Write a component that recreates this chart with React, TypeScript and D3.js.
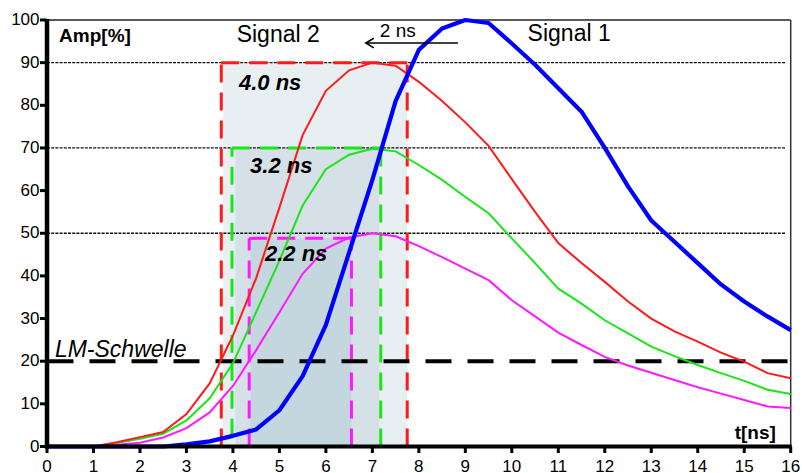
import React from "react";
import * as d3 from "d3";

// ---- data ----
const tValues = [0, 0.5, 1, 1.5, 2, 2.5, 3, 3.5, 4, 4.5, 5, 5.5, 6, 6.5, 7, 7.5, 8, 8.5, 9, 9.5, 10, 10.5, 11, 11.5, 12, 12.5, 13, 13.5, 14, 14.5, 15, 15.5, 16];
const signal1 = [0, 0, 0, 0, 0, 0, 0.5, 1.2, 2.5, 4, 8.5, 16.5, 28.5, 45.5, 62.5, 81, 93, 98, 100, 99.3, 94.5, 89.5, 84, 78.5, 70, 61, 53, 48, 43, 38, 34, 30.5, 27.3];
const signal2at90 = [0, 0, 0, 1, 2.2, 3.4, 7.6, 14.8, 26, 39.5, 56, 73, 83.4, 88.2, 90, 89.3, 85.5, 81, 76, 70.5, 62.7, 55, 47.7, 43, 38.6, 34, 30, 27, 24.6, 22, 19.9, 17.2, 16];
const signal2at70 = [0, 0, 0, 0.8, 1.8, 3, 6.1, 11.3, 19.5, 31.5, 43.6, 56.5, 65, 68.4, 69.8, 69.2, 66, 62.5, 58.5, 54.7, 48.8, 43, 37, 33.5, 29.6, 26.5, 23.4, 21.2, 19.1, 17.2, 15.4, 13.3, 12.3];
const signal2at50 = [0, 0, 0, 0.4, 0.9, 2.1, 4.3, 8, 14.2, 22.6, 31.5, 40.5, 46.4, 49, 50, 49.3, 47, 44.4, 41.7, 39, 34.3, 30.5, 26.7, 23.8, 21, 19, 17.3, 15.6, 13.9, 12.4, 10.9, 9.4, 9];

const xTicks = [0, 1, 2, 3, 4, 5, 6, 7, 8, 9, 10, 11, 12, 13, 14, 15, 16];
const yTicks = [0, 10, 20, 30, 40, 50, 60, 70, 80, 90, 100];
const gridLevels = [90, 70, 50];
const threshold = 20;

// rise-time windows: [start, end, level, bottom of left marker, label]
const windowStarts = [3.75, 3.98, 4.35];
const windowEnds = [7.75, 7.18, 6.55];
const windowLevels = [90, 70, 48.8];
const windowLeftBottoms = [0, 2.3, 0];
const windowLabels = ["4.0 ns", "3.2 ns", "2.2 ns"];
const windowLabelPos = [[4.13, 83.5], [4.37, 64.2], [4.69, 43.4]];

const FONT = "'Liberation Sans', Arial, Helvetica, sans-serif";

export default function App() {
  const W = 802, H = 473;
  const x = d3.scaleLinear().domain([0, 16]).range([47, 790.7]);
  const y = d3.scaleLinear().domain([0, 100]).range([446.5, 20]);

  const line = d3
    .line<number>()
    .x((_, i) => x(tValues[i]))
    .y((d) => y(d));

  const colors = ["#ff1a1a", "#19e619", "#ff19ff"];
  const fills = ["#e8eff2", "#d6e1e7", "#c4d6de"];
  const fillInset = [0.04, 0.07, 0.03];

  return (
    <svg
      width={W}
      height={H}
      style={{ position: "absolute", left: 0, top: 0, background: "#fff" }}
      fontFamily={FONT}
    >
      <rect x={0} y={0} width={W} height={H} fill="#fff" />
      {/* shaded rise-time windows */}
      {windowStarts.map((s, i) => (
        <rect
          key={"f" + i}
          x={x(s + fillInset[i])}
          y={y(windowLevels[i])}
          width={x(windowEnds[i] - (i === 1 ? 0.03 : 0)) - x(s + fillInset[i])}
          height={y(0) - y(windowLevels[i])}
          fill={fills[i]}
        />
      ))}

      {/* frame top and right */}
      <line x1={x(0)} x2={x(16)} y1={y(100)} y2={y(100)} stroke="#222" strokeWidth={1.5} />
      <line x1={x(16)} x2={x(16)} y1={y(100)} y2={y(0)} stroke="#333" strokeWidth={1.5} />

      {/* grid dashed lines */}
      {gridLevels.map((g) => (
        <line
          key={"g" + g}
          x1={x(0)}
          x2={x(15.88)}
          y1={y(g)}
          y2={y(g)}
          stroke="#111"
          strokeWidth={1.3}
          strokeDasharray="3 1.2"
        />
      ))}

      {/* window dashed outlines */}
      {windowStarts.map((s, i) => (
        <g key={"w" + i} stroke={colors[i]} strokeWidth={3} strokeDasharray="18 10" fill="none">
          <line x1={x(s)} x2={x(s)} y1={y(windowLeftBottoms[i])} y2={y(windowLevels[i])} />
          <line x1={x(windowEnds[i])} x2={x(windowEnds[i])} y1={y(0)} y2={y(windowLevels[i])} />
          <line x1={x(s)} x2={x(windowEnds[i])} y1={y(windowLevels[i])} y2={y(windowLevels[i])} />
        </g>
      ))}

      {/* threshold */}
      <line
        x1={x(0) + 0.5}
        x2={x(15.95)}
        y1={y(threshold)}
        y2={y(threshold)}
        stroke="#000"
        strokeWidth={4}
        strokeDasharray="26 16"
      />

      {/* curves */}
      <path d={line(signal2at50) ?? ""} fill="none" stroke={colors[2]} strokeWidth={2} />
      <path d={line(signal2at70) ?? ""} fill="none" stroke={colors[1]} strokeWidth={2} />
      <path d={line(signal2at90) ?? ""} fill="none" stroke={colors[0]} strokeWidth={2} />
      <path d={line(signal1) ?? ""} fill="none" stroke="#0000ff" strokeWidth={4.2} strokeLinejoin="round" />

      {/* axes */}
      <line x1={x(0)} x2={x(0)} y1={y(100) - 1} y2={y(0) + 2} stroke="#000" strokeWidth={4.5} />
      <line x1={x(0) - 2} x2={x(16) + 1} y1={y(0)} y2={y(0)} stroke="#000" strokeWidth={4} />
      {yTicks.map((t) => (
        <g key={"yt" + t}>
          <line x1={x(0) - 7} x2={x(0)} y1={y(t)} y2={y(t)} stroke="#000" strokeWidth={3} />
          <text x={39.5} y={y(t) + 5} textAnchor="end" fontSize={17} fill="#000">
            {t}
          </text>
        </g>
      ))}
      {xTicks.map((t) => (
        <g key={"xt" + t}>
          <line x1={x(t)} x2={x(t)} y1={y(0)} y2={y(0) + 6.5} stroke="#000" strokeWidth={3} />
          <text x={x(t)} y={472} textAnchor="middle" fontSize={17} fill="#000">
            {t}
          </text>
        </g>
      ))}

      {/* labels */}
      <text x={x(0.26)} y={y(94.8)} fontSize={19} fontWeight="bold" fill="#000">
        Amp[%]
      </text>
      <text x={x(15.68)} y={y(1.7)} fontSize={19} fontWeight="bold" textAnchor="end" fill="#000">
        t[ns]
      </text>
      <text x={x(4.08)} y={y(94.8)} fontSize={23} fill="#000">
        Signal 2
      </text>
      <text x={x(10.34)} y={y(95.1)} fontSize={23} fill="#000">
        Signal 1
      </text>
      <text x={x(7.16)} y={y(96)} fontSize={19} fill="#000">
        2 ns
      </text>
      <g stroke="#000" strokeWidth={1.6} fill="none">
        <line x1={x(8.84)} x2={x(6.86)} y1={y(94.6)} y2={y(94.6)} />
        <polyline
          points={`${x(7.03)},${y(94.6) - 4.8} ${x(6.86)},${y(94.6)} ${x(7.03)},${y(94.6) + 4.8}`}
        />
      </g>
      <text x={x(0.17)} y={y(21.1)} fontSize={23} fontStyle="italic" fill="#000">
        LM-Schwelle
      </text>
      {windowLabels.map((l, i) => (
        <text
          key={"wl" + i}
          x={x(windowLabelPos[i][0])}
          y={y(windowLabelPos[i][1])}
          fontSize={22}
          fontWeight="bold"
          fontStyle="italic"
          fill="#000"
        >
          {l}
        </text>
      ))}
    </svg>
  );
}
